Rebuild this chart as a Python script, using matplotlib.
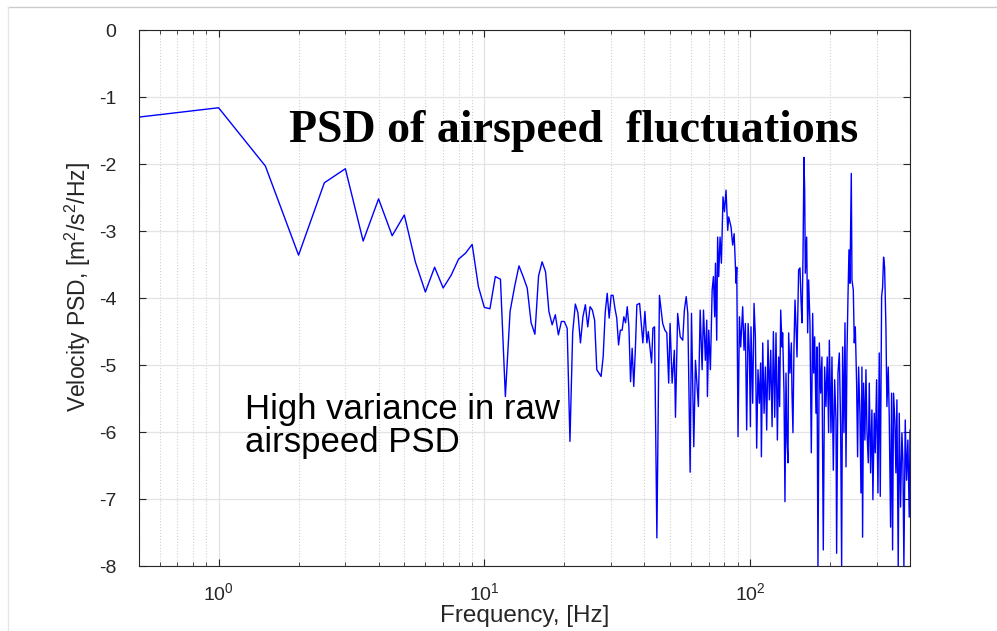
import numpy as np
import matplotlib
matplotlib.use('Agg')
import matplotlib.pyplot as plt
from matplotlib.ticker import LogLocator, FixedLocator, NullFormatter
from matplotlib.lines import Line2D

plt.rcParams['font.family'] = ['Liberation Sans', 'DejaVu Sans']
plt.rcParams['mathtext.default'] = 'regular'
plt.rcParams['axes.unicode_minus'] = False

# low band, 0.5 Hz bins
freq_low = [0.5, 1.0, 1.5, 2.0, 2.5, 3.0, 3.5, 4.0, 4.5, 5.0, 5.5, 6.0, 6.5, 7.0, 7.5,
            8.0, 8.5, 9.0, 9.5, 10.0, 10.5, 11.0, 11.5, 12.0, 12.5, 13.0, 13.5, 14.0,
            14.5, 15.0, 15.5, 16.0, 16.5, 17.0, 17.5, 18.0, 18.5, 19.0, 19.5, 20.0,
            20.5, 21.0, 21.5, 22.0, 22.5, 23.0, 23.5, 24.0, 24.5, 25.0, 25.5, 26.0,
            26.5, 27.0, 27.5, 28.0, 28.5, 29.0, 29.5, 30.0, 30.5, 31.0, 31.5, 32.0,
            32.5, 33.0, 33.5, 34.0, 34.5, 35.0, 35.5, 36.0, 36.5, 37.0, 37.5]
psd_low = [-1.30, -1.16, -2.03, -3.36, -2.28, -2.07, -3.15, -2.52, -3.07, -2.76, -3.46,
           -3.91, -3.54, -3.85, -3.66, -3.42, -3.33, -3.20, -3.83, -4.14, -4.16, -3.68,
           -3.72, -5.47, -4.20, -3.83, -3.52, -3.68, -3.85, -4.37, -4.54, -3.67, -3.46,
           -3.61, -4.20, -4.40, -4.25, -4.55, -4.35, -4.35, -4.45, -6.14, -4.52, -4.09,
           -4.22, -4.67, -4.28, -4.10, -4.43, -4.13, -4.18, -4.33, -5.07, -5.12, -5.17,
           -4.88, -4.22, -3.93, -4.30, -3.96, -3.96, -4.15, -4.30, -4.70, -4.48, -4.48,
           -4.28, -4.37, -4.13, -4.43, -5.25, -4.75, -5.32, -4.78, -4.10]

# mid band
freq_mid = [38.4, 39.5, 40.2, 40.9, 41.4, 42.6, 43.1, 43.7, 44.6, 45.6, 46.9, 47.8, 48.6,
            49.4, 50.0, 50.9, 51.9, 52.4, 53.4, 54.6, 55.8, 56.6, 57.5, 58.3, 59.5, 60.2,
            61.4, 62.3, 63.9, 64.9, 66.0, 66.8, 67.9, 68.7, 69.1, 69.9, 70.9, 72.0, 72.8,
            73.6, 74.1, 74.9, 75.5, 76.2, 77.1, 78.0, 79.1, 80.1, 81.2, 82.4, 83.1, 84.8,
            86.0, 87.1, 88.6, 89.1, 90.1, 91.2, 92.2, 93.8, 94.9, 96.0, 97.1, 98.3]
psd_mid = [-4.08, -4.67, -4.20, -4.67, -4.50, -4.97, -4.45, -4.43, -7.58, -3.96, -4.38,
           -4.48, -4.52, -5.27, -4.38, -5.27, -4.78, -5.78, -4.23, -4.58, -4.63, -4.18,
           -3.98, -4.23, -6.60, -4.23, -6.22, -4.93, -5.62, -4.18, -5.07, -4.18, -4.93,
           -4.33, -5.47, -4.48, -5.07, -3.88, -3.68, -4.28, -3.48, -4.63, -3.09, -3.68,
           -3.09, -3.48, -2.49, -2.71, -2.39, -2.99, -2.79, -2.94, -3.21, -3.04, -3.78,
           -3.54, -6.07, -4.28, -4.73, -4.13, -4.78, -4.38, -5.97, -4.38]

# high band
freq_high = [99.4, 100.3, 100.8, 102.3, 103.5, 104.7, 105.9, 107.1, 108.4, 109.6, 110.3,
             111.6, 112.9, 114.2, 115.5, 116.8, 118.2, 119.6, 121.0, 122.4, 123.8, 125.2,
             126.7, 128.1, 129.2, 130.4, 131.9, 132.6, 134.2, 135.3, 136.5, 137.7, 138.9,
             139.7, 141.3, 143.0, 143.8, 145.0, 146.3, 147.6, 148.9, 150.2, 152.3, 154.1,
             155.5, 156.8, 158.2, 159.5, 160.5, 161.4, 163.3, 164.7, 166.1, 168.0, 170.0,
             172.0, 173.5, 175.0, 177.0, 178.5, 180.1, 182.2, 184.3, 186.4, 188.6, 190.8,
             193.0, 195.2, 197.5,
             198.7, 201.6, 203.3, 205.7, 208.1, 210.5, 211.7, 214.2, 216.7, 219.2, 221.1,
             223.0, 225.6, 227.6, 229.6, 231.6, 233.6, 235.6, 237.6, 240.4, 241.8, 244.6,
             246.7, 248.9, 251.7, 253.9, 256.1, 259.1, 261.4, 263.6, 265.1, 267.4, 270.5,
             272.9, 275.3, 278.5, 280.9, 284.2, 287.4, 289.9, 293.3, 295.9, 299.3, 302.8,
             306.3, 309.0, 312.6, 315.3, 318.0, 320.8, 324.5, 327.3, 331.1, 334.0, 337.9,
             340.8, 343.8, 346.7, 350.8, 353.8, 356.9, 361.0, 364.2, 368.4, 372.7, 375.9,
             379.2, 383.6, 388.1, 392.5, 397.1, 400.0]
psd_high = [-4.82, -5.92, -4.43, -5.57, -4.08, -4.58, -6.24, -5.07, -5.57, -4.97, -6.37,
            -4.67, -5.72, -5.03, -5.97, -4.63, -5.52, -4.78, -5.92, -4.50, -5.78, -4.52,
            -6.12, -4.88, -5.62, -4.18, -4.73, -4.52, -5.42, -7.04, -5.12, -6.12, -6.46,
            -4.52, -5.12, -4.67, -5.42, -6.01, -4.73, -4.03, -4.43, -4.88, -3.58, -3.55,
            -4.03, -4.37, -3.39, -1.90, -2.39, -3.63, -3.09, -4.52, -3.73, -4.37, -6.31,
            -4.23, -5.12, -4.58, -5.72, -4.73, -8.01, -4.67, -5.42, -4.88, -7.76, -5.03,
            -5.62, -4.88, -6.01,
            -4.63, -6.01, -4.88, -6.57, -5.22, -5.82, -7.81, -5.12, -4.82, -5.92, -8.01,
            -4.73, -6.01, -4.37, -6.52, -4.82, -3.98, -3.28, -3.78, -2.14, -3.73, -3.88,
            -4.67, -4.43, -5.27, -6.37, -5.03, -5.72, -6.91, -5.03, -7.57, -5.27, -6.12,
            -5.07, -5.97, -6.46, -5.27, -6.61, -5.67, -7.01, -5.72, -6.31, -5.22, -6.91,
            -4.82, -6.96, -3.98, -3.84, -3.39, -3.54, -4.43, -5.62, -5.03, -5.78, -7.42,
            -5.42, -7.76, -5.42, -5.87, -6.61, -5.52, -8.01, -5.72, -7.12, -6.01, -6.42,
            -8.01, -5.82, -6.72, -6.12, -7.27, -5.97]

yticks = [0, -1, -2, -3, -4, -5, -6, -7, -8]

freq = np.array(freq_low + freq_mid + freq_high)
psd = np.array(psd_low + psd_mid + psd_high)

fig = plt.figure(figsize=(9.97, 6.31), dpi=100)
ax = fig.add_axes([0.139, 0.103, 0.7738, 0.8494])

ax.plot(freq, psd, color=(0, 0, 1), lw=1.0)

ax.set_xscale('log')
ax.set_xlim(0.5, 400)
ax.set_ylim(-8, 0)
ax.yaxis.set_major_locator(FixedLocator(yticks))
ax.xaxis.set_major_locator(LogLocator(base=10, numticks=10))
ax.xaxis.set_minor_locator(LogLocator(base=10, subs=np.arange(2, 10), numticks=20))
ax.xaxis.set_minor_formatter(NullFormatter())

ax.grid(True, which='major', color='#e3e3e3', lw=0.9, ls='-')
ax.grid(True, which='minor', axis='x', color='#d0d0d0', lw=0.8, ls=':')
ax.set_axisbelow(True)

ax.tick_params(which='both', direction='in', top=True, right=True, colors='#262626')
ax.tick_params(which='major', length=5, width=0.8, labelsize=14)
ax.tick_params(axis='y', which='major', pad=16)
ax.tick_params(axis='x', which='major', pad=12)
ax.tick_params(which='minor', length=3, width=0.6)
for s in ax.spines.values():
    s.set_color('#262626')
    s.set_linewidth(0.8)

ax.set_xlabel('Frequency, [Hz]', fontsize=17.5, color='#262626')
ax.xaxis.set_label_coords(0.5, -0.073)
ax.set_ylabel('Velocity PSD, [m$^2$/s$^2$/Hz]', fontsize=16.5, color='#262626')
ax.yaxis.set_label_coords(-0.059, 0.52)

ax.text(0.575, 0.775, 'PSD of airspeed  fluctuations', transform=fig.transFigure,
        ha='center', va='baseline', fontsize=33, fontweight='bold',
        family=['Liberation Serif', 'DejaVu Serif'])
ax.text(0.246, 0.2837, 'High variance in raw\nairspeed PSD', transform=fig.transFigure,
        ha='left', va='baseline', fontsize=25, linespacing=1.0)

# frame lines of the original screenshot
fig.add_artist(Line2D([0.008, 1.0], [0.989, 0.989], transform=fig.transFigure, color='#cccccc', lw=1))
fig.add_artist(Line2D([0.008, 0.008], [0.0, 0.989], transform=fig.transFigure, color='#e6e6e6', lw=1))

fig.savefig('out.png', dpi=100)
